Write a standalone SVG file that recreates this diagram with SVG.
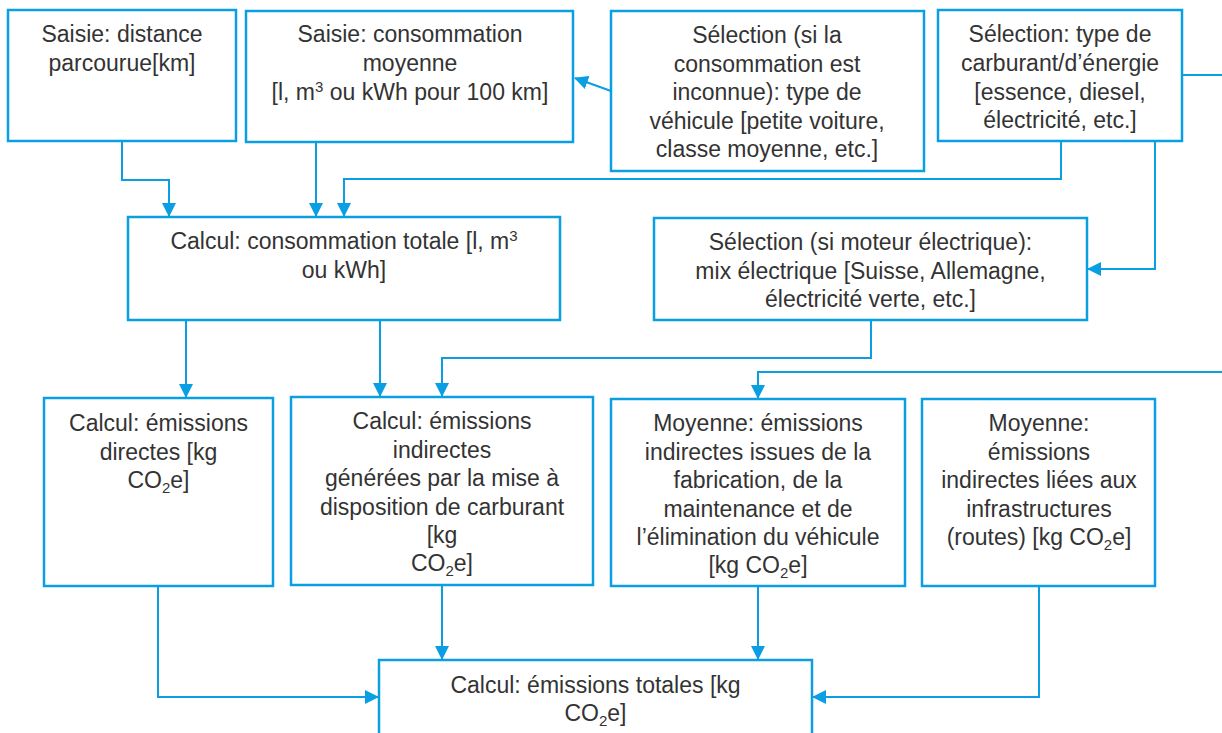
<svg xmlns="http://www.w3.org/2000/svg" width="1222" height="733" viewBox="0 0 1222 733">
<style>
.box{fill:#ffffff;stroke:#0a9fe2;stroke-width:2.5}
.t{font-family:"Liberation Sans",Arial,sans-serif;font-size:23px;fill:#333333;text-anchor:middle}
.c{fill:none;stroke:#0a9fe2;stroke-width:2}
</style>
<defs>
<marker id="ah" markerUnits="userSpaceOnUse" markerWidth="14" markerHeight="14" viewBox="0 0 14 14" refX="13" refY="7" orient="auto">
<path d="M0,0 L14,7 L0,14 Z" fill="#0a9fe2"/>
</marker>
</defs>
<rect width="1222" height="733" fill="#ffffff"/>
<g id="connectors">
<path class="c" d="M122,141 V180 H169 V216" marker-end="url(#ah)"/>
<path class="c" d="M316,142 V216" marker-end="url(#ah)"/>
<path class="c" d="M1061,141 V179 H344 V216" marker-end="url(#ah)"/>
<path class="c" d="M611,91 L575,78" marker-end="url(#ah)"/>
<path class="c" d="M1182,75 H1222"/>
<path class="c" d="M1155,141 V269 H1088" marker-end="url(#ah)"/>
<path class="c" d="M186,320 V397" marker-end="url(#ah)"/>
<path class="c" d="M380,320 V396" marker-end="url(#ah)"/>
<path class="c" d="M871,320 V358 H442 V396" marker-end="url(#ah)"/>
<path class="c" d="M1222,372 H758 V398" marker-end="url(#ah)"/>
<path class="c" d="M158,586 V697 H378" marker-end="url(#ah)"/>
<path class="c" d="M442,585 V659" marker-end="url(#ah)"/>
<path class="c" d="M758,586 V659" marker-end="url(#ah)"/>
<path class="c" d="M1039,586 V697 H813" marker-end="url(#ah)"/>
</g>
<g id="n1">
<rect class="box" x="8" y="10" width="228" height="131"/>
<text class="t" x="122" y="42">Saisie: distance</text>
<text class="t" x="122" y="71">parcourue[km]</text>
</g>
<g id="n2">
<rect class="box" x="246" y="11" width="327" height="131"/>
<text class="t" x="410" y="42">Saisie: consommation</text>
<text class="t" x="410" y="71">moyenne</text>
<text class="t" x="410" y="100">[l, m<tspan font-size="15" dy="-8">3</tspan><tspan dy="8"> ou kWh pour 100 km]</tspan></text>
</g>
<g id="n3">
<rect class="box" x="611" y="11" width="313" height="160"/>
<text class="t" x="767" y="43">Sélection (si la</text>
<text class="t" x="767" y="71.5">consommation est</text>
<text class="t" x="767" y="100">inconnue): type de</text>
<text class="t" x="767" y="128.5">véhicule [petite voiture,</text>
<text class="t" x="767" y="157">classe moyenne, etc.]</text>
</g>
<g id="n4">
<rect class="box" x="938" y="10" width="244" height="131"/>
<text class="t" x="1060" y="42">Sélection: type de</text>
<text class="t" x="1060" y="71">carburant/d’énergie</text>
<text class="t" x="1060" y="99.5">[essence, diesel,</text>
<text class="t" x="1060" y="128">électricité, etc.]</text>
</g>
<g id="n5">
<rect class="box" x="128" y="217" width="432" height="103"/>
<text class="t" x="344" y="249">Calcul: consommation totale [l, m<tspan font-size="15" dy="-8">3</tspan></text>
<text class="t" x="344" y="277.5">ou kWh]</text>
</g>
<g id="n6">
<rect class="box" x="654" y="218" width="433" height="102"/>
<text class="t" x="870.5" y="250">Sélection (si moteur électrique):</text>
<text class="t" x="870.5" y="278.5">mix électrique [Suisse, Allemagne,</text>
<text class="t" x="870.5" y="307">électricité verte, etc.]</text>
</g>
<g id="n7">
<rect class="box" x="44" y="398" width="229" height="188"/>
<text class="t" x="158.5" y="431">Calcul: émissions</text>
<text class="t" x="158.5" y="459.5">directes [kg</text>
<text class="t" x="158.5" y="488">CO<tspan font-size="15" dy="5">2</tspan><tspan dy="-5">e]</tspan></text>
</g>
<g id="n8">
<rect class="box" x="291" y="397" width="302" height="188"/>
<text class="t" x="442" y="429">Calcul: émissions</text>
<text class="t" x="442" y="457.5">indirectes</text>
<text class="t" x="442" y="486">générées par la mise à</text>
<text class="t" x="442" y="514.5">disposition de carburant</text>
<text class="t" x="442" y="543">[kg</text>
<text class="t" x="442" y="571">CO<tspan font-size="15" dy="5">2</tspan><tspan dy="-5">e]</tspan></text>
</g>
<g id="n9">
<rect class="box" x="611" y="399" width="294" height="187"/>
<text class="t" x="758" y="431">Moyenne: émissions</text>
<text class="t" x="758" y="459.5">indirectes issues de la</text>
<text class="t" x="758" y="488">fabrication, de la</text>
<text class="t" x="758" y="516.5">maintenance et de</text>
<text class="t" x="758" y="545">l’élimination du véhicule</text>
<text class="t" x="758" y="573">[kg CO<tspan font-size="15" dy="5">2</tspan><tspan dy="-5">e]</tspan></text>
</g>
<g id="n10">
<rect class="box" x="922" y="399" width="233" height="187"/>
<text class="t" x="1039" y="431">Moyenne:</text>
<text class="t" x="1039" y="459.5">émissions</text>
<text class="t" x="1039" y="488">indirectes liées aux</text>
<text class="t" x="1039" y="516.5">infrastructures</text>
<text class="t" x="1039" y="545">(routes) [kg CO<tspan font-size="15" dy="5">2</tspan><tspan dy="-5">e]</tspan></text>
</g>
<g id="n11">
<rect class="box" x="379" y="660" width="433" height="110"/>
<text class="t" x="595.5" y="693">Calcul: émissions totales [kg</text>
<text class="t" x="595.5" y="721">CO<tspan font-size="15" dy="5">2</tspan><tspan dy="-5">e]</tspan></text>
</g>
</svg>
